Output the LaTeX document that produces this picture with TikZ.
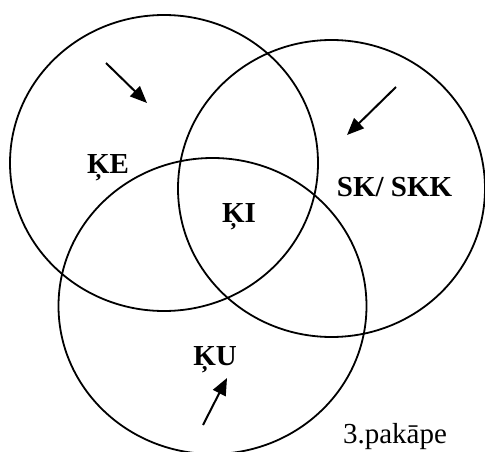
\documentclass[tikz,border=0pt]{standalone}
\usepackage{fontspec}
\setmainfont{Liberation Serif}
\usetikzlibrary{arrows.meta}

\begin{document}
\begin{tikzpicture}[
  x=1pt, y=-1pt,
  ring/.style={draw=black, line width=1.8pt},
  setlabel/.style={font=\fontsize{29}{34}\selectfont\bfseries, anchor=base, inner sep=0pt},
  steplabel/.style={font=\fontsize{29}{34}\selectfont, anchor=base, inner sep=0pt},
  pointer/.style={-{Triangle[length=17pt,width=14pt]}, line width=2pt},
]
\useasboundingbox (0,0) rectangle (485,452);

%% CENTRES
\coordinate (ke) at (164,163);
\coordinate (sk) at (331.5,188.5);
\coordinate (ku) at (212.5,306);

%% RINGS
\draw[ring] (ke) ellipse [x radius=154pt, y radius=148pt];
\draw[ring] (sk) ellipse [x radius=153.5pt, y radius=148.5pt];
\draw[ring] (ku) ellipse [x radius=154pt, y radius=148pt];

%% LABELS
\node[setlabel] (lke) at (108,173) {ĶE};
\node[setlabel] (lsk) at (394.5,196) {SK/ SKK};
\node[setlabel] (lki) at (239,222) {ĶI};
\node[setlabel] (lku) at (215,365) {ĶU};
\node[steplabel] (lstep) at (395,443) {3.pakāpe};

%% ARROWS
\coordinate (a1) at (106,63);  \coordinate (t1) at (147,103);
\coordinate (a2) at (396,87);  \coordinate (t2) at (347,135);
\coordinate (a3) at (203,425); \coordinate (t3) at (227,378);
\draw[pointer] (a1) -- (t1);
\draw[pointer] (a2) -- (t2);
\draw[pointer] (a3) -- (t3);

\end{tikzpicture}
\end{document}
